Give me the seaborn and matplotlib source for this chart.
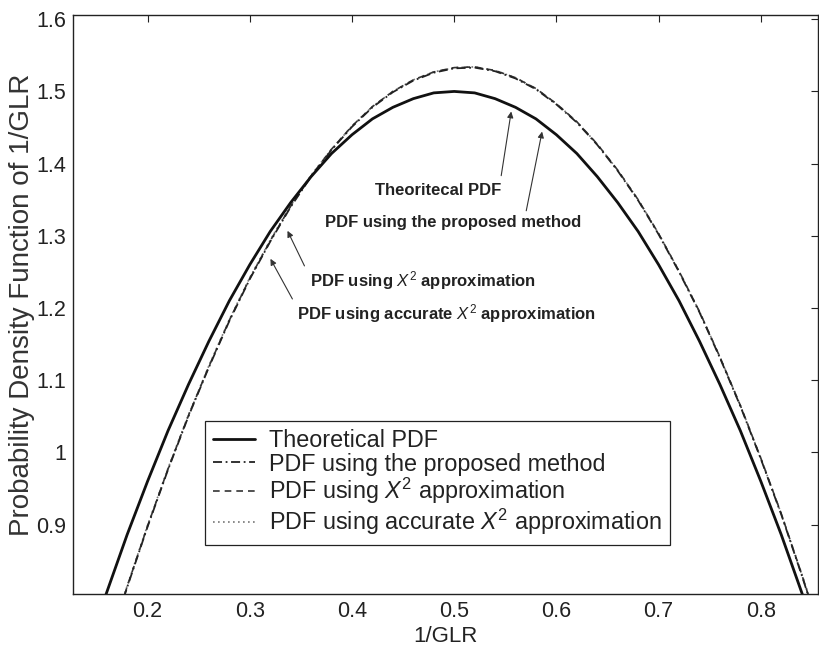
import matplotlib
matplotlib.use("Agg")
import matplotlib.pyplot as plt
from matplotlib.lines import Line2D
import seaborn as sns
import pandas as pd

# Sample points of 1/GLR
x_theory = [0.15, 0.16, 0.18, 0.20, 0.22, 0.24, 0.26, 0.28, 0.30, 0.32, 0.34, 0.36,
            0.38, 0.40, 0.42, 0.44, 0.46, 0.48, 0.50, 0.52, 0.54, 0.56, 0.58, 0.60,
            0.62, 0.64, 0.66, 0.68, 0.70, 0.72, 0.74, 0.76, 0.78, 0.80, 0.82, 0.84, 0.85]
pdf_theory = [0.765, 0.806, 0.886, 0.960, 1.030, 1.094, 1.154, 1.210, 1.260, 1.306, 1.346, 1.382,
              1.414, 1.440, 1.462, 1.478, 1.490, 1.498, 1.500, 1.498, 1.490, 1.478, 1.462, 1.440,
              1.414, 1.382, 1.346, 1.306, 1.260, 1.210, 1.154, 1.094, 1.030, 0.960, 0.886, 0.806, 0.765]

x_approx = [0.16, 0.18, 0.20, 0.22, 0.24, 0.26, 0.28, 0.30, 0.32, 0.34, 0.36, 0.38,
            0.40, 0.42, 0.44, 0.46, 0.48, 0.50, 0.52, 0.54, 0.56, 0.58, 0.60, 0.62,
            0.64, 0.66, 0.68, 0.70, 0.72, 0.74, 0.76, 0.78, 0.80, 0.82, 0.84, 0.86]
pdf_proposed = [0.724, 0.813, 0.897, 0.976, 1.050, 1.118, 1.182, 1.240, 1.292, 1.340, 1.382, 1.419,
                1.451, 1.478, 1.499, 1.515, 1.526, 1.532, 1.533, 1.528, 1.518, 1.503, 1.482, 1.457,
                1.426, 1.390, 1.349, 1.302, 1.250, 1.194, 1.131, 1.064, 0.991, 0.914, 0.830, 0.742]
pdf_chi2 = [0.725, 0.814, 0.898, 0.977, 1.051, 1.119, 1.183, 1.241, 1.293, 1.341, 1.383, 1.420,
            1.452, 1.479, 1.500, 1.516, 1.527, 1.533, 1.534, 1.529, 1.519, 1.504, 1.483, 1.458,
            1.427, 1.391, 1.350, 1.303, 1.251, 1.195, 1.132, 1.065, 0.992, 0.915, 0.831, 0.743]
pdf_chi2_accurate = [0.726, 0.815, 0.899, 0.978, 1.052, 1.120, 1.184, 1.242, 1.294, 1.342, 1.384, 1.420,
                     1.452, 1.479, 1.500, 1.516, 1.527, 1.533, 1.534, 1.529, 1.519, 1.504, 1.483, 1.458,
                     1.427, 1.391, 1.350, 1.303, 1.251, 1.195, 1.132, 1.065, 0.992, 0.915, 0.832, 0.744]

x_ticks = [0.2, 0.3, 0.4, 0.5, 0.6, 0.7, 0.8]
y_ticks = [0.9, 1.0, 1.1, 1.2, 1.3, 1.4, 1.5, 1.6]
y_tick_labels = ["0.9", "1", "1.1", "1.2", "1.3", "1.4", "1.5", "1.6"]

labels = ["Theoretical PDF",
          "PDF using the proposed method",
          r"PDF using $\mathit{X}^2$ approximation",
          r"PDF using accurate $\mathit{X}^2$ approximation"]

sns.set_theme(style="white")
plt.rcParams["font.family"] = ["Liberation Sans", "DejaVu Sans"]
plt.rcParams["mathtext.fontset"] = "custom"
plt.rcParams["mathtext.rm"] = "Liberation Sans"
plt.rcParams["mathtext.it"] = "Liberation Sans:italic"
plt.rcParams["mathtext.bf"] = "Liberation Sans:bold"

fig = plt.figure(figsize=(8.2, 6.49), dpi=100)
ax = fig.add_axes([0.089, 0.085, 0.9086, 0.892])

df_t = pd.DataFrame({"x": x_theory, "y": pdf_theory})
df_a = pd.DataFrame({"x": x_approx, "p": pdf_proposed, "c": pdf_chi2, "a": pdf_chi2_accurate})

sns.lineplot(data=df_a, x="x", y="a", ax=ax, color="#777777", lw=1.2,
             linestyle=(0, (1, 2)), sort=False)
sns.lineplot(data=df_a, x="x", y="c", ax=ax, color="#333333", lw=1.2,
             linestyle=(0, (4, 3)), sort=False)
sns.lineplot(data=df_a, x="x", y="p", ax=ax, color="#222222", lw=1.3,
             linestyle=(0, (5, 2, 1, 2)), sort=False)
sns.lineplot(data=df_t, x="x", y="y", ax=ax, color="#111111", lw=2.0, sort=False)

ax.set_xlim(0.127, 0.856)
ax.set_ylim(0.804, 1.606)
ax.set_xticks(x_ticks)
ax.set_xticklabels([f"{v:.1f}" for v in x_ticks])
ax.set_yticks(y_ticks)
ax.set_yticklabels(y_tick_labels)
ax.tick_params(direction="in", length=5, width=0.8, top=True, right=True,
               labelsize=15.5, colors="#222222", pad=5)
ax.set_xlabel("1/GLR", fontsize=16, color="#222222", labelpad=3)
ax.set_ylabel("Probability Density Function of 1/GLR", fontsize=20, color="#333333", labelpad=1)
for s in ax.spines.values():
    s.set_color("#222222")
    s.set_linewidth(1.0)

handles = [
    Line2D([], [], color="#111111", lw=2.0),
    Line2D([], [], color="#222222", lw=1.3, linestyle=(0, (5, 2, 1, 2))),
    Line2D([], [], color="#333333", lw=1.2, linestyle=(0, (4, 3))),
    Line2D([], [], color="#777777", lw=1.2, linestyle=(0, (1, 2))),
]
leg = ax.legend(handles, labels, loc="upper left", bbox_to_anchor=(0.25, 0.3513),
                bbox_transform=fig.transFigure, fontsize=16.8, frameon=True,
                fancybox=False, edgecolor="#222222", framealpha=1,
                borderpad=0.35, labelspacing=0.02, handlelength=1.8,
                handletextpad=0.6, borderaxespad=0)
leg.get_frame().set_linewidth(0.9)
for t in leg.get_texts():
    t.set_color("#222222")

arrow = dict(arrowstyle="-|>", color="#333333", lw=0.8, mutation_scale=9,
             shrinkA=0, shrinkB=0)
ann_kw = dict(fontsize=12, fontweight="bold", color="#222222")

ax.annotate("", xy=(0.5558, 1.4722), xytext=(0.546, 1.3833), arrowprops=arrow)
ax.text(0.4845, 1.3625, "Theoritecal PDF", ha="center", va="center", **ann_kw)

ax.annotate("", xy=(0.586, 1.4444), xytext=(0.5705, 1.3347), arrowprops=arrow)
ax.text(0.499, 1.318, "PDF using the proposed method", ha="center", va="center", **ann_kw)

ax.annotate("", xy=(0.3369, 1.3069), xytext=(0.3535, 1.2583), arrowprops=arrow)
ax.text(0.3593, 1.2375, r"PDF using $\mathit{X}^2$ approximation", ha="left", va="center", **ann_kw)

ax.annotate("", xy=(0.3202, 1.2681), xytext=(0.3417, 1.2125), arrowprops=arrow)
ax.text(0.3466, 1.1917, r"PDF using accurate $\mathit{X}^2$ approximation", ha="left", va="center", **ann_kw)

fig.savefig("out.png", dpi=100)
